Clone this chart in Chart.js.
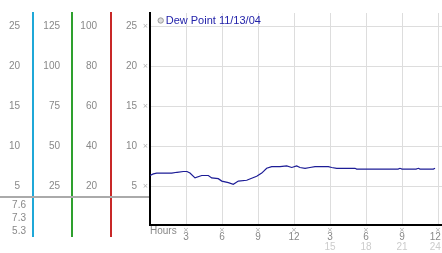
<!DOCTYPE html>
<html>
<head>
<meta charset="utf-8">
<script src="https://cdn.jsdelivr.net/npm/chart.js@4"></script>
<style>
  html, body { margin: 0; padding: 0; background: #fff; }
  #wrap { width: 442px; height: 253px; position: relative; }
</style>
</head>
<body>
<div id="wrap"><canvas id="chart"></canvas></div>
<script>
// dew point readings, hours after midnight
const hours = [0, 0.28, 0.56, 1.81, 2.25, 2.78, 3.08, 3.33, 3.75, 4.31,
  4.86, 5.14, 5.69, 5.98, 6.53, 6.94, 7.36, 8.06, 8.89, 9.31,
  9.72, 10.14, 10.83, 11.39, 11.81, 12.22, 12.5, 12.92, 13.33, 13.75,
  14.44, 14.86, 15.14, 15.56, 17.08, 17.22, 20.67, 20.83, 21.0, 22.17,
  22.36, 22.5, 23.61, 23.75];
const dewPoint = [6.4, 6.6, 6.7, 6.7, 6.8, 6.9, 6.9, 6.7, 6.1, 6.4,
  6.4, 6.1, 6.0, 5.7, 5.5, 5.3, 5.7, 5.8, 6.3, 6.7,
  7.3, 7.5, 7.5, 7.6, 7.4, 7.6, 7.4, 7.3, 7.4, 7.5,
  7.5, 7.5, 7.4, 7.3, 7.3, 7.2, 7.2, 7.3, 7.2, 7.2,
  7.3, 7.2, 7.2, 7.3];

const hourTicks = [3, 6, 9, 12, 15, 18, 21, 24];
const clockLabels = ["3", "6", "9", "12", "3", "6", "9", "12"];
const dayTicks = [15, 18, 21, 24];
const dayLabels = ["15", "18", "21", "24"];

const dewTicks = [5, 10, 15, 20, 25];
const outerTicks = [5, 10, 15, 20, 25];
const fiveTimesTicks = [25, 50, 75, 100, 125];
const fourTimesTicks = [20, 40, 60, 80, 100];
const summaryLabels = ["7.6", "7.3", "5.3"];
const legendText = "Dew Point 11/13/04";

Chart.defaults.font.family = "'Liberation Sans', Arial, sans-serif";
Chart.defaults.font.size = 10;

const GREY = "#888";
const CYAN = "#1fa8d8";
const GREEN = "#2ea02e";
const RED = "#c82828";

function sideAxis(ticks, min, max, weight, width, pad, borderColor) {
  return {
    type: "linear",
    position: "left",
    weight: weight,
    min: min,
    max: max,
    afterBuildTicks: s => { s.ticks = ticks.map(v => ({ value: v })); },
    afterFit: s => { s.width = width; s.paddingTop = 0; s.paddingBottom = 0; },
    ticks: { color: GREY, padding: pad },
    grid: { display: false, drawTicks: false },
    border: { color: borderColor, width: 1 }
  };
}

// last label sits a touch left of its tick, like the original
function edgeLabel(list) {
  return (v, i) => list[i] + (i === list.length - 1 ? "\u00a0\u00a0" : "");
}

// stray bits the library has no option for
const extras = {
  id: "extras",
  afterDraw(chart) {
    const { ctx, chartArea, scales } = chart;
    const bottom = chartArea.bottom;
    ctx.save();

    // the coloured rules run a little past the plot at both ends
    [["yOuter", CYAN], ["yFive", GREEN], ["yFour", RED]].forEach(([id, color]) => {
      const x = Math.round(scales[id].right);
      ctx.strokeStyle = color;
      ctx.lineWidth = 2;
      ctx.beginPath();
      ctx.moveTo(x, chartArea.top - 1);
      ctx.lineTo(x, bottom + 12);
      ctx.stroke();
    });

    ctx.strokeStyle = "#aaa";
    ctx.lineWidth = 2;
    ctx.beginPath();
    ctx.moveTo(0, bottom - 28);
    ctx.lineTo(chartArea.left - 1, bottom - 28);
    ctx.stroke();

    ctx.fillStyle = GREY;
    ctx.font = "10px 'Liberation Sans', Arial, sans-serif";
    ctx.textAlign = "right";
    ctx.textBaseline = "middle";
    summaryLabels.forEach((t, i) => {
      ctx.fillText(t, scales.yOuter.right - 7, bottom - 20 + i * 13);
    });

    // legend
    ctx.beginPath();
    ctx.arc(chartArea.left + 10.7, chartArea.top + 7.5, 2.7, 0, Math.PI * 2);
    ctx.fillStyle = "#ddd";
    ctx.fill();
    ctx.strokeStyle = "#999";
    ctx.lineWidth = 1;
    ctx.stroke();
    ctx.fillStyle = "#2222aa";
    ctx.font = "11px 'Liberation Sans', Arial, sans-serif";
    ctx.textAlign = "left";
    ctx.fillText(legendText, chartArea.left + 15.7, chartArea.top + 7.7);

    ctx.fillStyle = "#aaa";
    ctx.font = "7px 'DejaVu Sans', sans-serif";
    ctx.textAlign = "center";
    scales.y.ticks.forEach(t => {
      ctx.fillText("\u00d7", chartArea.left - 4.5, scales.y.getPixelForValue(t.value));
    });
    scales.x.ticks.forEach(t => {
      ctx.fillText("\u00d7", scales.x.getPixelForValue(t.value), bottom + 5.5);
    });
    ctx.restore();
  }
};

new Chart(document.getElementById("chart"), {
  type: "line",
  data: {
    datasets: [{
      label: legendText,
      data: hours.map((h, i) => ({ x: h, y: dewPoint[i] })),
      borderColor: "#1c1c96",
      borderWidth: 1.2,
      pointRadius: 0,
      tension: 0,
      xAxisID: "x",
      yAxisID: "y"
    }]
  },
  options: {
    responsive: true,
    maintainAspectRatio: false,
    animation: false,
    layout: { padding: { top: 13, left: 0, right: 0, bottom: 0 } },
    plugins: {
      tooltip: { enabled: false },
      legend: { display: false }
    },
    scales: {
      x: {
        type: "linear",
        position: "bottom",
        weight: 0,
        min: 0,
        max: 24.33,
        afterBuildTicks: s => { s.ticks = hourTicks.map(v => ({ value: v })); },
        afterFit: s => { s.height = 16; s.paddingLeft = 0; s.paddingRight = 0; },
        ticks: {
          color: GREY,
          padding: 6,
          maxRotation: 0,
          autoSkip: false,
          callback: edgeLabel(clockLabels)
        },
        grid: { color: "#ddd", drawTicks: false },
        border: { color: "#000", width: 2 },
        title: {
          display: true,
          text: "Hours",
          align: "start",
          color: GREY,
          font: { size: 10 },
          padding: { top: 0, bottom: 4 }
        }
      },
      x2: {
        type: "linear",
        position: "bottom",
        weight: 1,
        min: 0,
        max: 24.33,
        afterBuildTicks: s => { s.ticks = dayTicks.map(v => ({ value: v })); },
        afterFit: s => { s.height = 12; s.paddingLeft = 0; s.paddingRight = 0; },
        ticks: {
          color: "#ccc",
          padding: 0,
          maxRotation: 0,
          autoSkip: false,
          callback: edgeLabel(dayLabels)
        },
        grid: { display: false, drawTicks: false },
        border: { display: false }
      },
      yOuter: sideAxis(outerTicks, 0.21, 26.71, 3, 33, 13, CYAN),
      yFive: sideAxis(fiveTimesTicks, 1.05, 133.55, 2, 39, 12, GREEN),
      yFour: sideAxis(fourTimesTicks, 0.84, 106.84, 1, 39, 14, RED),
      y: {
        type: "linear",
        position: "left",
        weight: 0,
        min: 0.21,
        max: 26.71,
        afterBuildTicks: s => { s.ticks = dewTicks.map(v => ({ value: v })); },
        afterFit: s => { s.width = 39; s.paddingTop = 0; s.paddingBottom = 0; },
        ticks: { color: GREY, padding: 13 },
        grid: { color: "#ddd", drawTicks: false },
        border: { color: "#000", width: 2 }
      }
    }
  },
  plugins: [extras]
});
</script>
</body>
</html>
